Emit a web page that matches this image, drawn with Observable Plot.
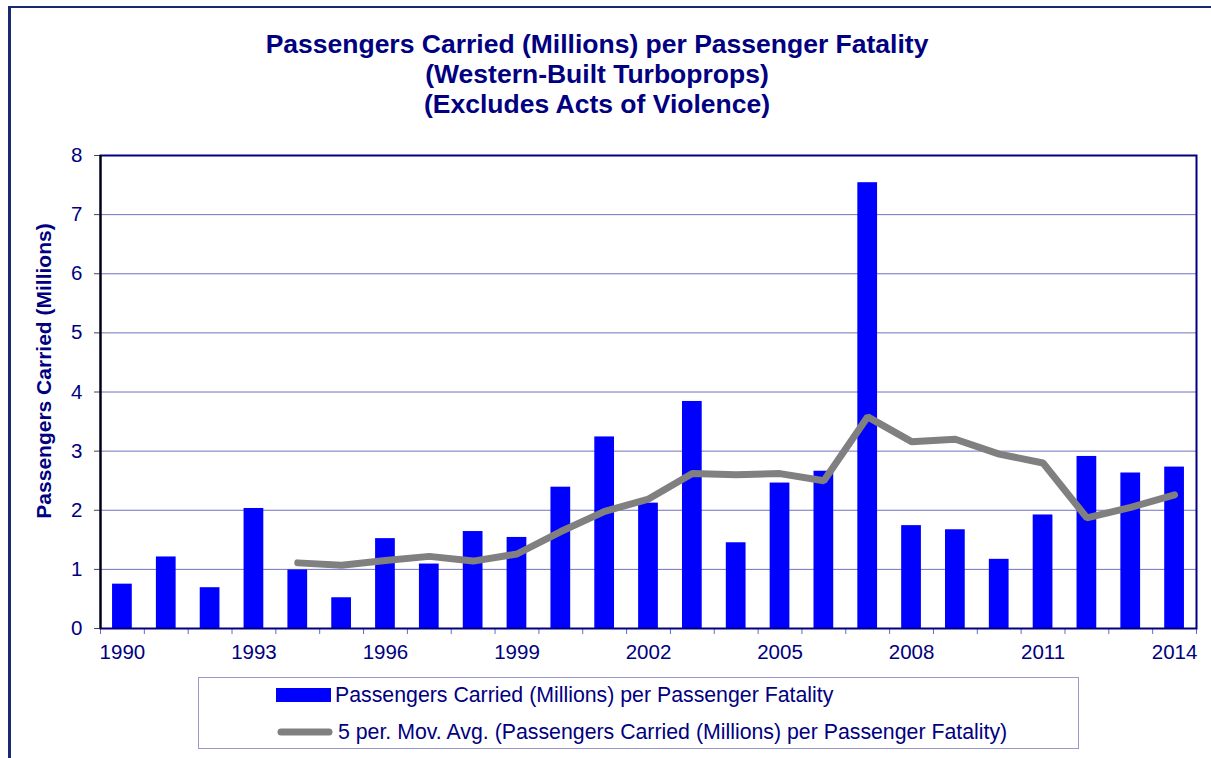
<!DOCTYPE html>
<html>
<head>
<meta charset="utf-8">
<script src="https://cdn.jsdelivr.net/npm/d3@7"></script>
<script src="https://cdn.jsdelivr.net/npm/@observablehq/plot@0.6"></script>
<style>
  html, body { margin: 0; padding: 0; background: #fff; }
  #page { position: relative; width: 1211px; height: 758px; overflow: hidden; font-family: "Liberation Sans", Arial, sans-serif; }
  #frame { position: absolute; left: 8px; top: 6px; width: 1300px; height: 800px; border-left: 3px solid #1a2a70; border-top: 2px solid #1a2a70; box-sizing: border-box; }
  #title { position: absolute; left: 0; top: 29px; width: 1194px; text-align: center; font-weight: bold; font-size: 26.5px; line-height: 30px; color: #000080; }
  #ytitle { position: absolute; left: 44px; top: 371px; transform: translate(-50%, -50%) rotate(-90deg); white-space: nowrap; font-weight: bold; font-size: 21px; color: #000080; }
  #chart { position: absolute; left: 0; top: 140px; }
  #legend { position: absolute; left: 198px; top: 677px; width: 881px; height: 72px; border: 1px solid #9999cc; box-sizing: border-box; }
  .item { position: absolute; left: 77px; height: 24px; display: flex; align-items: center; font-size: 21.3px; color: #000080; white-space: nowrap; }
  .item svg { margin-right: 4px; }
</style>
</head>
<body>
<div id="page">
  <div id="frame"></div>
  <div id="title">Passengers Carried (Millions) per Passenger Fatality<br>(Western-Built Turboprops)<br>(Excludes Acts of Violence)</div>
  <div id="ytitle">Passengers Carried (Millions)</div>
  <div id="chart"></div>
  <div id="legend">
    <div class="item" style="top:5px;"><svg width="55" height="14"><rect x="0" y="0" width="55" height="14" fill="#0000ff"></rect></svg>Passengers Carried (Millions) per Passenger Fatality</div>
    <div class="item" style="top:42px;"><svg width="58" height="14"><line x1="5" y1="7" x2="53" y2="7" stroke="#808080" stroke-width="7" stroke-linecap="round"></line></svg>5 per. Mov. Avg. (Passengers Carried (Millions) per Passenger Fatality)</div>
  </div>
</div>
<script>
// Data
const years = [1990,1991,1992,1993,1994,1995,1996,1997,1998,1999,2000,2001,2002,2003,2004,2005,2006,2007,2008,2009,2010,2011,2012,2013,2014];
const passengersPerFatality = [0.75,1.21,0.69,2.03,0.99,0.52,1.52,1.09,1.64,1.54,2.39,3.24,2.12,3.84,1.45,2.46,2.66,7.54,1.74,1.67,1.17,1.92,2.91,2.63,2.73];
const maYears = [1994,1995,1996,1997,1998,1999,2000,2001,2002,2003,2004,2005,2006,2007,2008,2009,2010,2011,2012,2013,2014];
const movingAvg5 = [1.11,1.07,1.15,1.22,1.14,1.26,1.64,1.98,2.19,2.62,2.60,2.62,2.50,3.58,3.16,3.20,2.95,2.80,1.87,2.05,2.26];
const yTicks = [0,1,2,3,4,5,6,7,8];
const xLabelYears = [1990,1993,1996,1999,2002,2005,2008,2011,2014];

const bars = years.map((y, i) => ({year: y, value: passengersPerFatality[i]}));
const ma = maYears.map((y, i) => ({year: y, value: movingAvg5[i]}));
const boundaries = years.map(y => y - 0.5).concat([years[years.length - 1] + 0.5]);
const halfBar = 0.225;

const navy = "#000080";
const chart = Plot.plot({
  width: 1211,
  height: 530,
  marginTop: 15,
  marginLeft: 100,
  marginRight: 15,
  marginBottom: 42,
  style: {fontFamily: "'Liberation Sans', Arial, sans-serif", fontSize: "20px", color: navy, background: "transparent"},
  x: {type: "linear", domain: [years[0] - 0.5, years[years.length - 1] + 0.5]},
  y: {domain: [0, 8]},
  marks: [
    Plot.ruleY(yTicks.filter(t => t > 0 && t < 8), {stroke: "#7272c0", strokeWidth: 1}),
    Plot.rectY(bars, {x1: d => d.year - halfBar, x2: d => d.year + halfBar, y1: 0, y2: "value", fill: "#0000ff"}),
    Plot.line(ma, {x: "year", y: "value", stroke: "#808080", strokeWidth: 7, strokeLinecap: "round", strokeLinejoin: "miter"}),
    Plot.axisY({ticks: yTicks, tickSize: 6, tickPadding: 12, stroke: "#444", label: null, tickFormat: d => String(d), fill: navy, fontSize: 20.5}),
    Plot.axisX({ticks: boundaries, tickSize: 6, tickFormat: () => "", stroke: "#6a6ab8", label: null}),
    Plot.axisX({ticks: xLabelYears, tickSize: 0, tickPadding: 16, tickFormat: d => String(d), label: null, fill: navy, fontSize: 20.5}),
    Plot.frame({stroke: navy, strokeWidth: 2}),
    Plot.ruleX([years[0] - 0.5], {stroke: "#000", strokeWidth: 2})
  ]
});
document.getElementById("chart").appendChild(chart);
</script>
</body>
</html>
